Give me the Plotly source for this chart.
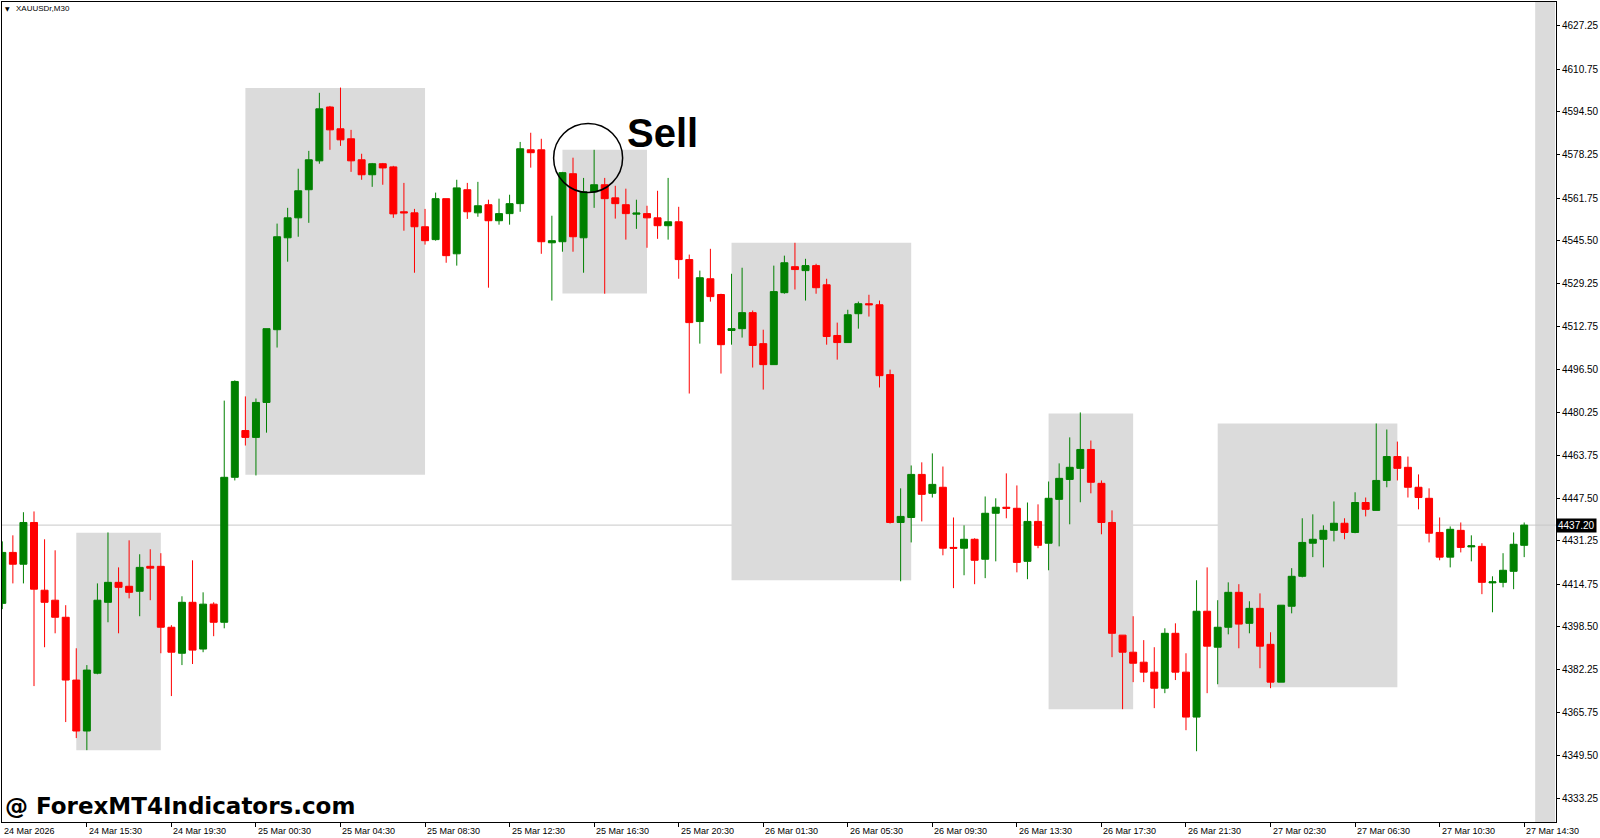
import plotly.graph_objects as go

# XAUUSDr M30 candles (oldest first)
opens = [4407.4, 4426.8, 4422.3, 4438.2, 4412.4, 4408.6, 4402.1, 4378.2, 4358.8, 4380.8,
         4407.8, 4415.4, 4413.9, 4412.0, 4421.5, 4421.5, 4398.3, 4388.4, 4407.8, 4390.0,
         4407.1, 4400.2, 4455.4, 4473.2, 4470.6, 4483.9, 4511.6, 4546.6, 4554.2, 4564.9,
         4575.9, 4596.4, 4588.1, 4584.3, 4576.3, 4570.6, 4574.8, 4573.6, 4556.5, 4556.1,
         4550.8, 4545.9, 4561.5, 4540.5, 4564.9, 4556.1, 4559.2, 4553.1, 4555.8, 4559.6,
         4580.1, 4580.1, 4544.7, 4545.1, 4571.0, 4546.6, 4564.1, 4566.8, 4561.8, 4559.2,
         4555.6, 4555.8, 4554.2, 4551.2, 4552.7, 4538.3, 4514.7, 4531.0, 4525.0, 4511.3,
         4512.0, 4518.1, 4506.3, 4498.3, 4525.7, 4535.6, 4534.1, 4536.0, 4528.7, 4509.4,
         4506.7, 4517.7, 4521.5, 4521.1, 4494.5, 4438.2, 4440.1, 4456.5, 4449.3, 4451.6,
         4428.7, 4428.4, 4431.8, 4424.2, 4441.7, 4444.0, 4443.6, 4423.4, 4438.6, 4430.3,
         4447.0, 4454.6, 4458.8, 4466.0, 4453.1, 4438.2, 4395.3, 4388.8, 4385.0, 4381.2,
         4375.1, 4396.0, 4381.2, 4364.1, 4404.4, 4390.7, 4398.3, 4411.6, 4399.8, 4405.5,
         4391.8, 4377.4, 4406.3, 4417.7, 4430.3, 4431.8, 4435.2, 4437.9, 4434.4, 4445.8,
         4442.8, 4454.2, 4463.3, 4459.2, 4451.6, 4447.4, 4434.4, 4425.0, 4435.2, 4428.9,
         4429.1, 4415.2, 4415.4, 4419.6, 4429.5]
highs = [4431.0, 4433.3, 4442.1, 4442.4, 4431.8, 4427.6, 4406.7, 4390.3, 4383.9, 4415.0,
         4434.4, 4421.1, 4431.4, 4426.1, 4428.0, 4426.5, 4399.1, 4410.1, 4423.8, 4411.6,
         4407.8, 4484.6, 4492.3, 4486.2, 4485.4, 4512.0, 4552.0, 4558.0, 4572.9, 4579.7,
         4601.8, 4596.8, 4603.8, 4587.7, 4578.6, 4575.1, 4575.1, 4574.0, 4567.5, 4557.6,
         4557.6, 4563.8, 4561.5, 4568.7, 4567.5, 4567.9, 4561.1, 4561.5, 4563.0, 4583.1,
         4586.6, 4584.3, 4555.0, 4571.7, 4577.1, 4569.4, 4580.1, 4569.4, 4566.4, 4565.3,
         4561.1, 4558.8, 4564.5, 4569.4, 4558.4, 4540.2, 4534.1, 4542.4, 4525.3, 4532.9,
         4535.2, 4518.9, 4511.6, 4536.0, 4539.8, 4544.7, 4538.6, 4536.7, 4531.0, 4514.3,
         4519.2, 4522.3, 4524.9, 4522.7, 4496.4, 4451.2, 4459.9, 4461.1, 4464.5, 4459.5,
         4440.1, 4437.1, 4432.2, 4448.1, 4447.4, 4456.9, 4452.3, 4445.8, 4445.1, 4453.8,
         4460.7, 4470.6, 4480.1, 4469.4, 4454.2, 4442.8, 4395.3, 4402.5, 4393.4, 4390.7,
         4397.9, 4399.8, 4388.4, 4416.2, 4421.1, 4408.6, 4415.4, 4414.7, 4408.2, 4411.2,
         4396.4, 4406.7, 4420.8, 4439.8, 4441.3, 4437.1, 4446.2, 4439.8, 4449.7, 4447.7,
         4475.9, 4473.6, 4469.0, 4463.3, 4456.5, 4451.2, 4440.1, 4436.7, 4438.2, 4433.3,
         4430.3, 4417.7, 4426.5, 4434.4, 4438.2]
lows = [4405.2, 4415.0, 4415.0, 4375.9, 4390.7, 4396.0, 4362.2, 4356.1, 4351.5, 4380.4,
        4400.2, 4396.0, 4409.3, 4402.5, 4408.6, 4388.4, 4372.1, 4383.9, 4384.3, 4388.8,
        4394.9, 4397.9, 4454.2, 4467.5, 4456.1, 4472.4, 4504.8, 4537.5, 4547.0, 4552.3,
        4574.8, 4580.1, 4581.6, 4571.7, 4568.7, 4566.0, 4566.8, 4554.2, 4549.3, 4533.3,
        4544.0, 4545.5, 4537.1, 4536.0, 4553.8, 4554.6, 4527.6, 4551.6, 4551.6, 4556.5,
        4573.3, 4540.5, 4522.7, 4541.3, 4541.3, 4533.3, 4558.0, 4525.3, 4553.9, 4545.9,
        4550.0, 4542.8, 4546.2, 4545.9, 4531.0, 4487.3, 4506.3, 4522.3, 4494.9, 4505.9,
        4508.6, 4497.2, 4488.8, 4498.3, 4525.3, 4526.9, 4522.7, 4525.3, 4505.9, 4500.2,
        4506.7, 4512.0, 4516.6, 4489.6, 4437.8, 4415.8, 4430.6, 4438.6, 4447.7, 4425.7,
        4413.2, 4418.1, 4414.7, 4417.0, 4423.4, 4439.8, 4419.2, 4416.6, 4428.4, 4420.0,
        4429.1, 4437.5, 4445.9, 4449.3, 4433.7, 4386.9, 4367.1, 4377.4, 4377.4, 4367.5,
        4373.2, 4378.2, 4359.1, 4351.1, 4373.2, 4376.6, 4395.6, 4390.3, 4396.0, 4382.7,
        4375.1, 4377.4, 4403.6, 4417.3, 4425.0, 4421.1, 4431.0, 4431.8, 4434.1, 4440.5,
        4442.8, 4451.6, 4454.2, 4447.7, 4443.2, 4430.6, 4423.8, 4421.1, 4426.8, 4423.4,
        4410.9, 4404.0, 4413.5, 4412.8, 4425.0]
closes = [4426.8, 4422.3, 4438.2, 4412.8, 4407.8, 4402.1, 4378.2, 4358.8, 4382.0, 4408.6,
          4415.4, 4413.5, 4411.6, 4421.1, 4420.8, 4398.3, 4388.8, 4407.8, 4389.6, 4407.1,
          4400.2, 4455.4, 4491.9, 4470.6, 4483.9, 4512.0, 4547.0, 4554.2, 4564.5, 4576.3,
          4595.7, 4587.7, 4583.9, 4575.9, 4570.6, 4574.8, 4573.2, 4555.7, 4556.1, 4550.8,
          4545.5, 4561.5, 4539.8, 4565.6, 4556.5, 4558.8, 4553.1, 4555.8, 4559.6, 4580.5,
          4579.0, 4545.1, 4545.5, 4571.4, 4547.0, 4564.1, 4566.8, 4561.5, 4559.6, 4555.8,
          4556.0, 4554.2, 4551.2, 4552.7, 4538.3, 4514.3, 4531.4, 4524.2, 4505.9, 4512.0,
          4518.1, 4505.6, 4498.3, 4526.1, 4537.1, 4534.5, 4536.0, 4527.6, 4509.0, 4506.7,
          4517.3, 4521.5, 4521.1, 4494.1, 4438.2, 4440.5, 4456.5, 4448.9, 4452.7, 4428.4,
          4428.4, 4431.8, 4423.8, 4441.7, 4444.0, 4443.6, 4423.0, 4438.6, 4429.5, 4447.4,
          4455.0, 4459.2, 4466.0, 4453.5, 4438.2, 4396.0, 4388.8, 4384.6, 4381.2, 4375.1,
          4396.0, 4381.2, 4364.1, 4404.4, 4391.1, 4398.3, 4411.6, 4399.5, 4405.5, 4391.1,
          4377.4, 4406.7, 4417.7, 4430.6, 4431.8, 4435.2, 4437.9, 4434.4, 4445.8, 4443.2,
          4454.2, 4463.3, 4458.8, 4451.6, 4447.7, 4434.1, 4425.0, 4435.6, 4428.7, 4429.3,
          4415.4, 4415.6, 4420.0, 4429.9, 4437.2]

# time axis labels, one every 8 bars
time_labels = ["24 Mar 2026", "24 Mar 15:30", "24 Mar 19:30", "25 Mar 00:30", "25 Mar 04:30",
               "25 Mar 08:30", "25 Mar 12:30", "25 Mar 16:30", "25 Mar 20:30", "26 Mar 01:30",
               "26 Mar 05:30", "26 Mar 09:30", "26 Mar 13:30", "26 Mar 17:30", "26 Mar 21:30",
               "27 Mar 02:30", "27 Mar 06:30", "27 Mar 10:30", "27 Mar 14:30"]
time_label_bars = [0, 8, 16, 24, 32, 40, 48, 56, 64, 72, 80, 88, 96, 104, 112, 120, 128, 136, 144]

price_ticks = [4627.25, 4610.75, 4594.50, 4578.25, 4561.75, 4545.50, 4529.25, 4512.75, 4496.50,
               4480.25, 4463.75, 4447.50, 4431.25, 4414.75, 4398.50, 4382.25, 4365.75, 4349.50,
               4333.25]

# indicator zones (gray boxes): start bar, end bar, top, bottom
zone_start = [7, 23, 53, 69, 99, 115]
zone_end = [15, 40, 61, 86, 107, 132]
zone_top = [4434.3, 4603.6, 4580.1, 4544.7, 4479.7, 4475.9]
zone_bottom = [4351.5, 4456.4, 4525.4, 4416.2, 4367.1, 4375.5]

current_price = 4437.20
sell_bar = 55.43
sell_price = 4577.0

bars = list(range(len(opens)))

fig = go.Figure()

fig.add_trace(go.Candlestick(
    x=bars, open=opens, high=highs, low=lows, close=closes,
    increasing=dict(line=dict(color='#008000', width=1), fillcolor='#008000'),
    decreasing=dict(line=dict(color='#FF0000', width=1), fillcolor='#FF0000'),
    whiskerwidth=0,
    hoverinfo='skip',
    showlegend=False,
))

shapes = []
for s, e, t, b in zip(zone_start, zone_end, zone_top, zone_bottom):
    shapes.append(dict(type='rect', xref='x', yref='y', x0=s, x1=e, y0=b, y1=t,
                       fillcolor='#DBDBDB', line=dict(width=0), layer='below'))

# chart shift strip on the right
shapes.append(dict(type='rect', xref='paper', yref='paper', x0=0.9866, x1=0.9994, y0=0, y1=1,
                   fillcolor='#DBDBDB', line=dict(width=0), layer='below'))

# current bid line
shapes.append(dict(type='line', xref='paper', yref='y', x0=0, x1=1,
                   y0=current_price, y1=current_price,
                   line=dict(color='#C8C8C8', width=1), layer='below'))

# circle round the sell signal
shapes.append(dict(type='circle', xref='x', yref='y', xsizemode='pixel', ysizemode='pixel',
                   xanchor=sell_bar, yanchor=sell_price, x0=-34.5, x1=34.5, y0=-34.5, y1=34.5,
                   line=dict(color='black', width=1.5)))

annotations = []
for lbl, b in zip(time_labels, time_label_bars):
    annotations.append(dict(x=b, y=-0.011, xref='x', yref='paper', text=lbl, showarrow=False,
                            xanchor='left', yanchor='middle', xshift=0,
                            font=dict(family='Liberation Sans', size=9, color='black')))

annotations.append(dict(x=1, y=current_price, xref='paper', yref='y', text='4437.20',
                        showarrow=False, xanchor='left', yanchor='middle',
                        bgcolor='black', borderpad=1,
                        font=dict(family='Liberation Sans', size=10, color='white')))

annotations.append(dict(x=sell_bar, y=sell_price, xref='x', yref='y', text='<b>Sell</b>',
                        showarrow=False, xanchor='left', yanchor='middle', xshift=37, yshift=25,
                        font=dict(family='Liberation Sans', size=40, color='black')))

annotations.append(dict(x=0, y=0.019, xref='paper', yref='paper',
                        text='<b>@ ForexMT4Indicators.com</b>', showarrow=False,
                        xanchor='left', yanchor='middle', xshift=1,
                        font=dict(family='DejaVu Sans', size=23, color='black')))

annotations.append(dict(x=0, y=0.992, xref='paper', yref='paper', text='▼', showarrow=False,
                        xanchor='left', yanchor='middle', xshift=1,
                        font=dict(family='DejaVu Sans', size=6, color='black')))
annotations.append(dict(x=0, y=0.992, xref='paper', yref='paper', text='XAUUSDr,M30',
                        showarrow=False, xanchor='left', yanchor='middle', xshift=12,
                        font=dict(family='Liberation Sans', size=8, color='black')))

fig.update_layout(
    width=1600, height=838,
    margin=dict(l=1, r=42, t=1, b=16),
    plot_bgcolor='white', paper_bgcolor='white',
    boxgap=0.34, boxgroupgap=0,
    shapes=shapes,
    annotations=annotations,
    xaxis=dict(
        range=[-0.028, 147.01],
        rangeslider=dict(visible=False),
        showgrid=False, zeroline=False,
        showline=True, linecolor='black', linewidth=1, mirror=True,
        tickmode='array', tickvals=time_label_bars[1:],
        ticks='outside', ticklen=4, tickcolor='black',
        showticklabels=False,
    ),
    yaxis=dict(
        side='right',
        range=[4324.15, 4636.38],
        showgrid=False, zeroline=False,
        showline=True, linecolor='black', linewidth=1, mirror=True,
        tickmode='array', tickvals=price_ticks,
        ticktext=['%.2f' % v for v in price_ticks],
        ticks='outside', ticklen=3, tickcolor='black',
        tickfont=dict(family='Liberation Sans', size=10, color='black'),
    ),
)

fig.write_html("out.html", config={'displayModeBar': False},
               post_script="document.body.style.margin='0';document.body.style.overflow='hidden';")
